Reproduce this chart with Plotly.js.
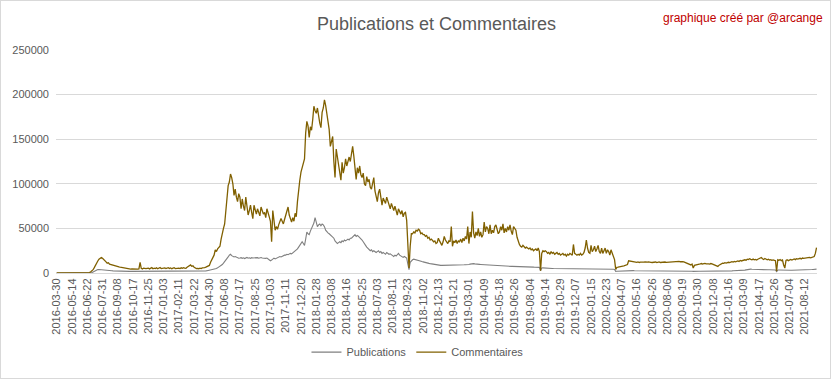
<!DOCTYPE html>
<html>
<head>
<meta charset="utf-8">
<script src="https://cdn.plot.ly/plotly-3.0.1.min.js"></script>
<style>
  html, body { margin: 0; padding: 0; background: #fff; }
  #chart { width: 829px; height: 377px; border: 1px solid #d9d9d9; }
</style>
</head>
<body>
<div id="chart"></div>
<script>
// Tick labels (one every 13 samples; each sample ~3 days)
const tickLabels = [
  "2016-03-30","2016-05-14","2016-06-22","2016-07-31","2016-09-08","2016-10-17","2016-11-25",
  "2017-01-03","2017-02-11","2017-03-22","2017-04-30","2017-06-08","2017-07-17","2017-08-25",
  "2017-10-03","2017-11-11","2017-12-20","2018-01-28","2018-03-08","2018-04-16","2018-05-25",
  "2018-07-03","2018-08-11","2018-09-23","2018-11-02","2018-12-13","2019-01-21","2019-03-01",
  "2019-04-09","2019-05-18","2019-06-26","2019-08-04","2019-09-14","2019-10-29","2019-12-07",
  "2020-01-15","2020-02-23","2020-04-07","2020-05-16","2020-06-26","2020-08-06","2020-09-19",
  "2020-10-30","2020-12-08","2021-01-16","2021-03-09","2021-04-17","2021-05-26","2021-07-04",
  "2021-08-12"
];
const samplesPerTick = 13;

const commentaires = [
  0,0,0,0,0,0,0,0,0,0,0,0,0,
  0,0,0,0,0,0,0,0,0,0,0,0,0,
  0,200,500,1500,2500,3700,6000,9000,12000,13500,15500,17000,17400,
  16500,15500,14000,12500,11000,11500,10000,9500,9000,8500,8500,7800,7500,
  7000,6800,6500,6200,6000,5800,5500,5400,5000,4800,4600,4400,4500,
  4300,4400,4200,4500,4300,4600,12000,5200,4500,5500,4800,5000,5300,
  5500,4600,5200,6000,4800,5400,5000,5800,4700,5300,6200,5000,5500,
  5200,5800,4900,5500,6000,5100,5600,4800,5400,5900,5000,5300,5700,
  5500,5000,5800,5200,6000,5500,5300,6500,7500,8500,9000,7500,8000,
  6500,5500,5000,5200,4800,5500,5000,5800,5500,6000,6500,7000,8000,
  8500,12000,15000,17000,20000,26000,24000,27000,28000,30000,38000,46000,50000,
  55000,72000,85000,98000,102000,111000,107000,100000,87000,94000,85000,80000,89000,
  85000,72000,83000,75000,70000,85000,72000,65000,70000,76000,68000,61000,76000,
  70000,66000,72000,68000,64000,74000,70000,66000,68000,62000,72000,66000,63000,
  58000,35000,70000,54000,48000,52000,49000,54000,57000,61000,58000,55000,60000,
  64000,70000,74000,65000,60000,57000,62000,58000,67000,63000,80000,95000,104000,
  113000,118000,122000,128000,157000,170000,165000,152000,164000,160000,172000,187000,182000,
  179000,185000,175000,168000,163000,180000,185000,194000,188000,178000,165000,161000,142000,
  150000,153000,125000,107000,139000,131000,120000,110000,104000,124000,112000,118000,128000,
  120000,125000,130000,125000,135000,142000,131000,120000,105000,118000,112000,120000,110000,
  107000,112000,100000,98000,108000,102000,105000,96000,94000,100000,107000,92000,85000,
  80000,90000,94000,85000,76000,84000,80000,78000,85000,80000,76000,72000,78000,
  74000,70000,75000,70000,65000,72000,68000,66000,70000,63000,67000,68000,59000,
  30000,5500,30000,44000,44000,46000,45000,48000,47000,49000,48000,44000,45000,
  43000,43000,41000,42000,39000,40000,37000,38000,36000,35000,36000,33000,34000,
  39000,36000,33000,31000,35000,41000,37000,35000,33000,36000,35000,52000,30000,
  36000,34000,37000,33000,36000,35000,38000,34000,39000,36000,41000,38000,52000,
  33000,46000,40000,69000,45000,39000,46000,42000,50000,41000,46000,40000,43000,
  57000,46000,52000,50000,44000,54000,44000,48000,45000,52000,54000,47000,44000,
  46000,52000,48000,55000,45000,50000,46000,52000,48000,54000,47000,43000,52000,
  50000,48000,40000,35000,32000,30000,29000,31000,30000,28000,29000,28000,27000,
  28000,26000,27000,25000,26000,27000,25000,28000,24000,2500,22000,25000,24000,
  25000,24000,22000,23000,21000,24000,22000,23000,21000,22000,23000,21000,22000,
  20000,21000,22000,20000,21000,19000,21000,20000,22000,21000,20000,32000,22000,
  21000,20000,21000,20000,22000,20000,21000,23000,28000,37000,28000,23000,22000,
  31000,24000,26000,30000,24000,27000,31000,24000,22000,28000,22000,25000,28000,
  22000,26000,24000,20000,26000,22000,18500,15000,4000,6300,6500,7000,7400,
  7400,7800,8000,8300,8500,9500,13700,13500,13000,12500,12800,12200,12600,
  12000,12400,11800,12300,12000,11700,12200,12500,11900,12100,12400,11800,12000,
  11800,12200,11900,12300,11600,12000,12400,11800,12100,11700,12000,12300,11900,
  12000,12300,11800,12500,12800,12200,12700,13000,12400,12800,13000,12600,13000,
  12700,12400,11800,11200,11000,10500,9500,9000,10000,5500,8500,9000,9500,
  10000,10400,10200,10600,10000,10400,10800,10200,10500,10300,10000,10600,10200,
  9800,9400,9000,8500,7400,8800,9500,10500,11000,10800,11500,11200,12000,
  12000,11600,12400,12800,12300,13000,12600,13200,13600,13000,14000,13500,14200,
  14000,14800,14400,15500,15000,16000,15300,14800,15600,14800,15200,14600,15400,
  15800,16400,17400,16000,15200,16200,15000,14800,15500,14500,15000,14200,14600,
  14200,13800,2000,14800,14200,15000,13800,14500,9000,5500,14000,14800,13800,
  14800,15200,14500,15400,15800,15000,16000,15500,16200,16500,15800,16800,16400,
  16700,17000,16500,17200,17400,17000,17600,18000,18500,22000,28500
];

const publications = [
  0,0,0,0,0,0,0,0,0,0,0,0,0,
  0,0,0,0,0,0,0,0,0,0,0,0,0,
  0,0,0,200,500,1200,2000,3000,3500,3800,4000,3800,3500,
  3300,3200,3000,2900,2800,2700,2600,2500,2500,2400,2300,2300,2200,
  2200,2100,2100,2000,2000,2000,1900,1900,1900,1800,1800,1800,1800,
  1800,1700,1800,1700,1700,1800,1700,1700,1600,1700,1700,1600,1700,
  1700,1600,1700,1600,1600,1700,1600,1600,1700,1600,1600,1700,1600,
  1600,1700,1600,1700,1600,1600,1700,1700,1600,1700,1700,1800,1700,
  1700,1800,1700,1800,1800,1900,1800,1900,2000,2200,2400,2300,2200,
  2100,2000,2000,1900,2000,2000,2100,2100,2200,2300,2400,2600,2800,
  3000,3200,3500,3800,4200,4500,5000,5800,6500,7500,8500,9500,11000,
  12500,14500,16000,18000,20000,21000,19500,18500,18000,18500,17500,17000,16500,
  16800,17200,16500,17000,16200,16800,17400,16600,17000,16400,17200,16800,17000,
  17400,16800,17200,16600,17000,17400,16800,16500,17000,16400,16800,15800,14500,
  13700,14500,16000,16700,15800,16500,17000,17800,18500,18000,19000,19500,20000,
  20000,21000,20500,21500,22000,21500,22500,23000,24000,25500,27000,29000,31000,
  33000,35000,33000,31000,38000,46000,44000,43000,47000,50000,52000,56000,62000,
  57000,52000,54000,55000,53000,55000,54000,52000,48000,46000,45000,44000,43000,
  42000,40000,39000,36000,35000,33000,34000,35000,34000,36000,35000,37000,36000,
  37000,38000,37000,39000,39000,40000,41000,43000,41000,42000,41000,40000,38000,
  37000,35000,32000,31000,29000,28000,26000,25000,26000,24000,25000,24000,23000,
  24000,25000,23000,24000,22000,23000,22000,21000,23000,22000,21000,21500,20000,
  19500,18500,20000,19000,21000,22000,20000,19000,18500,17500,18500,17000,16700,
  10000,3700,12000,14000,14800,15500,15000,14500,14000,14200,13500,13000,12800,
  12500,12000,12200,11500,11200,10800,10500,10200,10000,9800,9500,9200,9000,
  8800,8700,8600,8500,8500,8400,8500,8600,8500,8700,8600,8800,8800,
  8900,9000,9000,9100,9000,9200,9100,9000,9100,9200,9300,9200,9400,
  9600,10000,10400,10700,10500,10200,9900,10000,9800,9700,9600,9500,9400,
  9200,9000,8800,8600,8500,8400,8300,8200,8300,8200,8100,8000,8000,
  7900,7900,7800,7800,7700,7700,7600,7600,7500,7500,7400,7400,7400,
  7300,7300,7200,7200,7100,7100,7000,7000,6900,6900,6800,6800,6700,
  6700,6700,6600,6600,6500,6500,6400,6400,6300,2500,5500,5800,5600,
  5500,5400,5300,5200,5200,5100,5100,5000,5000,5000,4900,4900,4900,
  4800,4800,4800,4800,4700,4800,4700,4700,4800,4700,4600,4800,4700,
  4700,4600,4700,4600,4600,4700,4600,4500,4600,4500,4600,4500,4600,
  4500,4600,4500,4500,4400,4500,4400,4500,4400,4400,4500,4400,4400,
  4400,4400,4300,4400,4300,4300,4200,4000,1800,2000,2100,2200,2200,
  2300,2300,2400,2400,2500,2500,2600,2600,2600,2600,2700,2600,2600,
  2600,2600,2700,2600,2600,2600,2700,2600,2600,2600,2600,2700,2600,
  2600,2600,2600,2700,2600,2600,2600,2600,2700,2600,2600,2600,2600,
  2600,2700,2600,2600,2600,2600,2700,2600,2600,2600,2600,2600,2600,
  2600,2500,2500,2400,2400,2300,2200,2100,2000,1800,2000,2000,2000,
  2000,2000,1900,1900,1900,1800,1800,1800,1800,1800,1700,1700,1700,
  1700,1700,1700,1700,1600,1700,1800,1800,1900,2000,2000,2100,2200,
  2300,2300,2400,2400,2500,2500,2600,2600,2600,2700,2800,2800,2900,
  3000,3200,3500,3800,4200,4400,4300,4200,4100,4000,4000,3900,3900,
  3800,3800,3800,3700,3700,3700,3600,3600,3600,3600,3500,3500,3500,
  3500,3400,1500,3300,3300,3200,3200,3100,3100,3000,3000,3000,3000,
  3000,3000,3100,3100,3200,3200,3300,3300,3400,3400,3500,3500,3600,
  3600,3600,3700,3700,3800,3800,3900,4000,4100,4300,4400
];

const idx = arr => arr.map((_, i) => i);
const tickvals = tickLabels.map((_, i) => i * samplesPerTick);
const n = commentaires.length;

const font = "Liberation Sans, Arial, sans-serif";
const grey = "#595959";

const traces = [
  {
    x: idx(publications), y: publications, name: "Publications",
    type: "scatter", mode: "lines",
    line: { color: "#7f7f7f", width: 1.1 }
  },
  {
    x: idx(commentaires), y: commentaires, name: "Commentaires",
    type: "scatter", mode: "lines",
    line: { color: "#806000", width: 1.3 }
  }
];

const layout = {
  width: 829, height: 377,
  margin: { l: 55, r: 13, t: 49, b: 103 },
  paper_bgcolor: "#ffffff", plot_bgcolor: "#ffffff",
  font: { family: font, color: grey, size: 11 },
  title: {
    text: "Publications et Commentaires",
    font: { family: font, size: 18, color: grey, weight: 300 },
    x: 0.5, xanchor: "center", xref: "paper",
    y: 0.94, yanchor: "middle", yref: "container"
  },
  showlegend: true,
  legend: {
    orientation: "h", x: 0.475, xanchor: "center", y: -0.355, yanchor: "middle",
    font: { family: font, size: 11, color: grey }, bgcolor: "rgba(0,0,0,0)",
    itemwidth: 30, tracegroupgap: 0
  },
  xaxis: {
    type: "linear", range: [-0.6, n - 0.6],
    tickmode: "array", tickvals: tickvals, ticktext: tickLabels,
    tickangle: -90, showgrid: false, zeroline: false,
    showline: true, linecolor: "#d9d9d9", linewidth: 1,
    ticks: "", tickfont: { family: font, size: 11, color: grey },
    fixedrange: true
  },
  yaxis: {
    range: [0, 250000], tickmode: "linear", tick0: 0, dtick: 50000,
    showgrid: true, gridcolor: "#d9d9d9", gridwidth: 1,
    zeroline: false, showline: false, ticks: "",
    tickformat: "d", ticklabelstandoff: 6,
    tickfont: { family: font, size: 11, color: grey },
    fixedrange: true
  },
  annotations: [
    {
      text: "graphique créé par @arcange", xref: "paper", yref: "paper",
      x: 1.01, xanchor: "right", y: 1.145, yanchor: "middle",
      showarrow: false, font: { family: font, size: 12, color: "#c00000" }
    }
  ]
};

Plotly.newPlot("chart", traces, layout, { displayModeBar: false, staticPlot: true });
</script>
</body>
</html>
